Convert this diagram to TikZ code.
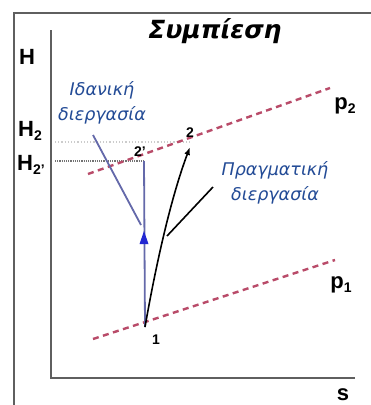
\documentclass[tikz,border=0pt]{standalone}
\usepackage{fontspec}
\setmainfont{Liberation Sans}
\newfontfamily\dejavu{DejaVu Sans}
\usetikzlibrary{arrows.meta}
\definecolor{framegray}{RGB}{95,95,95}
\definecolor{isored}{RGB}{185,75,105}
\definecolor{slate}{RGB}{100,105,170}
\definecolor{arrowblue}{RGB}{35,40,210}
\definecolor{txtblue}{RGB}{35,75,150}
\newcommand{\lowsub}[1]{\raisebox{-0.35ex}{\fontsize{14}{14}\selectfont #1}}
\begin{document}
\begin{tikzpicture}[x=1pt,y=-1pt,
  frameline/.style={framegray, line width=2},
  isobar/.style={isored, line width=2.4, dash pattern=on 6pt off 4.5pt},
  axlabel/.style={font=\bfseries\fontsize{22}{24}\selectfont, inner sep=0},
  ptlabel/.style={font=\bfseries\fontsize{14}{15}\selectfont, inner sep=0},
  proc/.style={txtblue, font=\dejavu\itshape\fontsize{17.5}{24.5}\selectfont, align=center, inner sep=0},
  ideal/.style={slate, line width=1.8},
  real/.style={black, line width=1.6}]
\useasboundingbox (0,0) rectangle (371,405);
\fill[white] (0,0) rectangle (371,405);
% outer frame
\draw[frameline] (14,405) -- (14,13) -- (371,13);
% axes
\coordinate (ytop) at (51,30);
\coordinate (orig) at (51,378);
\coordinate (xend) at (355,378);
\draw[frameline] (ytop) -- (orig) -- (xend);
% title
\node[font=\dejavu\bfseries\itshape\fontsize{25}{27}\selectfont, inner sep=0] (title) at (215,31) {Συμπίεση};
% axis labels
\node[axlabel] (H) at (27,57) {H};
\node[axlabel] (H2) at (30,131) {H\lowsub{2}};
\node[axlabel] (H2s) at (31,165) {H\lowsub{2'}};
\node[axlabel] (s) at (343,395) {s};
% state points
\coordinate (pt1) at (145,327);
\coordinate (pt2s) at (144,161);
\coordinate (pt2) at (190,147);
% dotted levels
\coordinate (h2l) at (55,142);
\coordinate (h2r) at (190,142);
\coordinate (h2sl) at (55,161);
\draw[gray!40, line width=1.2, dotted] (h2l) -- (h2r);
\draw[gray!90!black, line width=1.2, densely dotted] (h2sl) -- (pt2s);
% isobars
\coordinate (a2) at (88,174);
\coordinate (b2) at (330,88);
\coordinate (a1) at (93,339);
\coordinate (b1) at (335,260);
\draw[isobar] (a2) -- (b2);
\draw[isobar] (a1) -- (b1);
\node[axlabel] (p2) at (345,106) {p\lowsub{2}};
\node[axlabel] (p1) at (341,285) {p\lowsub{1}};
% ideal process
\draw[ideal] (pt1) -- (pt2s);
\fill[arrowblue] (144,231) -- (148.5,244) -- (139.5,244) -- cycle;
\node[proc] (idealtxt) at (102,103) {Ιδανική\\διεργασία};
\coordinate (idealfoot) at (93,135);
\coordinate (idealtip) at (141,225);
\draw[ideal] (idealfoot) -- (idealtip);
% real process
\draw[real, -{Latex[length=8pt,width=6pt]}] (pt1) .. controls (155,270) and (170,200) .. (pt2);
\node[proc] (realtxt) at (275,183) {Πραγματική\\διεργασία};
\coordinate (realfoot) at (213,187);
\coordinate (realtip) at (167,236);
\draw[real] (realfoot) -- (realtip);
% point labels
\node[ptlabel] (l1) at (156,340) {1};
\node[ptlabel] (l2) at (190,133) {2};
\node[ptlabel] (l2s) at (140,152) {2'};
\end{tikzpicture}
\end{document}
